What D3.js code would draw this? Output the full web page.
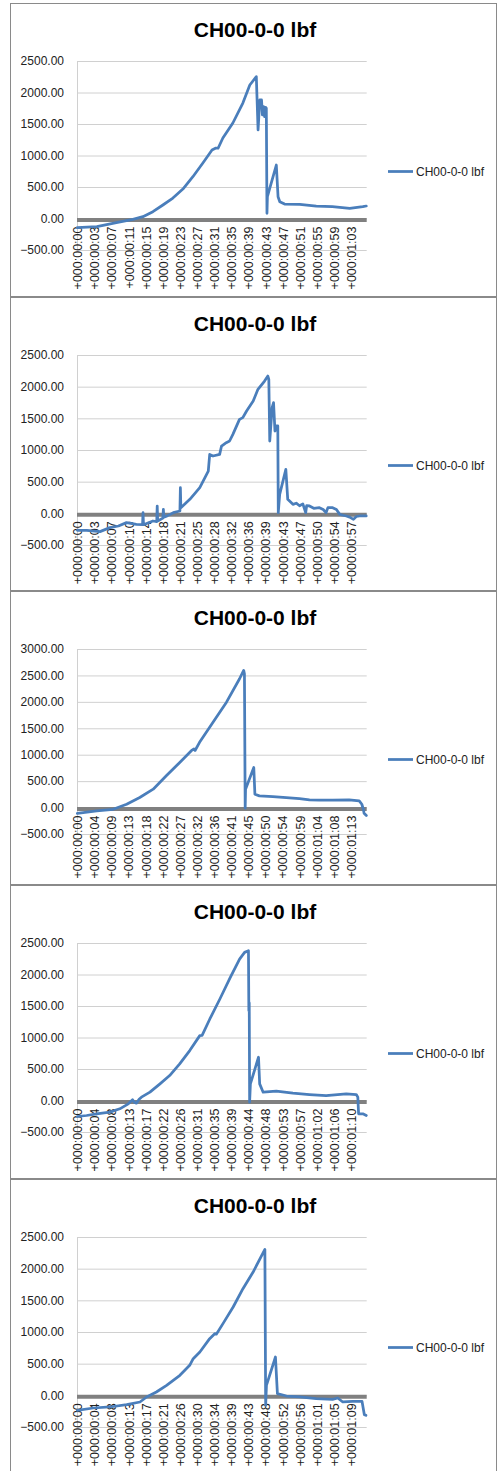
<!DOCTYPE html>
<html><head><meta charset="utf-8">
<script src="https://cdn.jsdelivr.net/npm/d3@7"></script>
<style>body{margin:0;background:#fff} svg{display:block}</style>
</head><body><svg id="c" width="497" height="1471"></svg>
<script>
const seriesName = "CH00-0-0 lbf";

const ticks1 = ["+000:00:00","+000:00:03","+000:00:07","+000:00:11","+000:00:15","+000:00:19","+000:00:23","+000:00:27","+000:00:31","+000:00:35","+000:00:39","+000:00:43","+000:00:47","+000:00:51","+000:00:55","+000:00:59","+000:01:03"];
const ticks2 = ["+000:00:00","+000:00:03","+000:00:07","+000:00:10","+000:00:14","+000:00:18","+000:00:21","+000:00:25","+000:00:28","+000:00:32","+000:00:36","+000:00:39","+000:00:43","+000:00:47","+000:00:50","+000:00:54","+000:00:57"];
const ticks3 = ["+000:00:00","+000:00:04","+000:00:09","+000:00:13","+000:00:18","+000:00:22","+000:00:27","+000:00:32","+000:00:36","+000:00:41","+000:00:45","+000:00:50","+000:00:54","+000:00:59","+000:01:04","+000:01:08","+000:01:13"];
const ticks4 = ["+000:00:00","+000:00:04","+000:00:08","+000:00:13","+000:00:17","+000:00:22","+000:00:26","+000:00:31","+000:00:35","+000:00:39","+000:00:44","+000:00:48","+000:00:53","+000:00:57","+000:01:02","+000:01:06","+000:01:10"];
const ticks5 = ["+000:00:00","+000:00:04","+000:00:08","+000:00:13","+000:00:17","+000:00:21","+000:00:26","+000:00:30","+000:00:34","+000:00:39","+000:00:43","+000:00:48","+000:00:52","+000:00:56","+000:01:01","+000:01:05","+000:01:09"];

// seconds between labelled categories, and total recorded duration (s)
const tickSteps = [3.94, 3.62, 4.575, 4.43, 4.37];
const durations = [66.6, 61.2, 77.4, 74.9, 73.9];
const yMaxes = [2500, 2500, 3000, 2500, 2500];
const yMin = -500;

// [seconds, lbf]
const data1 = [[0,-146],[4.5,-130],[9.0,-67],[12.8,-13],[15.1,29],[17.4,108],[19.7,214],[22.0,325],[24.3,468],[26.6,663],[28.9,880],[31.0,1087],[31.9,1119],[32.4,1115],[33.5,1278],[35.8,1516],[38.1,1833],[39.7,2119],[41.2,2251],[41.6,1405],[42.0,1881],[42.4,1881],[42.6,1643],[42.9,1775],[43.1,1616],[43.35,1765],[43.5,1749],[43.65,83],[43.75,346],[45.8,849],[46.2,346],[46.6,267],[47.7,230],[51.2,225],[55.0,198],[58.7,187],[62.7,162],[65.7,187],[66.5,198]];
const data2 = [[0,-268],[2.0,-268],[4.8,-289],[6.9,-226],[8.7,-200],[10.4,-147],[12.5,-174],[13.8,-180],[13.9,10],[14.0,-180],[16.0,-121],[16.8,-130],[16.9,115],[17.0,-121],[18.1,-75],[18.2,63],[18.3,-60],[19.0,-40],[20.3,10],[21.7,37],[21.8,405],[21.9,89],[23.8,221],[25.9,405],[27.7,668],[28.0,931],[28.7,905],[30.1,931],[30.5,1063],[31.5,1116],[32.2,1142],[32.9,1247],[34.3,1484],[35.0,1511],[35.8,1616],[36.5,1695],[37.2,1774],[38.2,1958],[39.6,2089],[40.3,2168],[40.5,2116],[40.7,1142],[41.2,1668],[41.5,1747],[41.8,1300],[42.1,1379],[42.4,1379],[42.5,10],[42.8,300],[44.1,695],[44.5,221],[45.6,142],[46.3,160],[47.0,120],[47.7,150],[48.3,10],[48.5,120],[49.1,116],[50.0,80],[51.2,89],[52.0,60],[52.6,10],[53.0,90],[54.0,89],[54.8,60],[55.5,-16],[56.2,-30],[56.9,-42],[57.6,-60],[58.4,-95],[59.0,-50],[59.7,-42],[61.1,-42]];
const data3 = [[0,-108],[5.2,-63],[9.6,-32],[13.2,63],[16.7,190],[20.3,348],[23.8,601],[27.4,854],[30.5,1076],[31.2,1108],[31.5,1080],[32.7,1234],[36.3,1614],[39.9,1994],[43.4,2437],[44.5,2595],[44.7,2532],[44.9,-10],[45.0,348],[47.2,759],[47.5,253],[48.7,221],[52.3,209],[55.9,190],[59.4,171],[62.1,146],[64.7,139],[68.3,139],[72.7,146],[75.4,127],[76.1,63],[76.5,-32],[76.7,-108],[77.3,-150]];
const data4 = [[0,-254],[2.4,-238],[5.0,-211],[8.4,-185],[11.0,-132],[13.2,-53],[14.3,11],[14.8,-30],[15.3,-42],[16.0,20],[16.6,53],[18.8,132],[21.4,264],[23.9,396],[26.5,581],[29.1,792],[31.7,1030],[32.3,1035],[34.3,1294],[36.9,1611],[39.6,1955],[42.0,2245],[43.3,2351],[44.3,2377],[44.4,1426],[44.5,1550],[44.6,-26],[44.8,264],[46.9,687],[47.2,264],[48.1,132],[51.5,148],[55.8,116],[60.1,95],[64.4,79],[69.6,106],[72.2,95],[72.6,53],[72.8,-211],[73.9,-211],[74.8,-238]];
const data5 = [[0,-237],[4.1,-200],[8.3,-184],[12.6,-147],[16.0,-105],[17.7,-26],[20.2,53],[22.8,158],[26.2,316],[28.7,474],[29.6,579],[31.3,684],[33.8,895],[35.1,974],[35.5,965],[37.2,1132],[39.8,1395],[42.3,1684],[44.9,1947],[47.9,2305],[48.1,-158],[48.3,158],[50.6,605],[51.1,26],[53.4,-11],[56.8,-26],[61.0,-53],[65.2,-63],[66.5,-42],[67.8,-105],[70.3,-95],[72.7,-95],[73.3,-305],[73.7,-316]];

const tickSets = [ticks1, ticks2, ticks3, ticks4, ticks5];
const dataSets = [data1, data2, data3, data4, data5];

// layout
const frameTops = [3, 297, 591, 885, 1179];
const plotBottoms = [247, 248, 243, 247, 248];
const FONT = "'Liberation Sans', Arial, sans-serif";
const LINE = "#4a7ebb";
const PL = 77, PR = 366.7;

const svg = d3.select("#c");

dataSets.forEach((data, i) => {
  const F = frameTops[i];
  const g = svg.append("g");
  g.append("rect").attr("x", 10.5).attr("y", F + 0.5).attr("width", 486).attr("height", 293)
    .attr("fill", "#fff").attr("stroke", "#8a8a8a").attr("stroke-width", 1);

  const x = d3.scaleLinear().domain([0, durations[i]]).range([PL + 0.3, PR]);
  const y = d3.scaleLinear().domain([yMin, yMaxes[i]]).range([F + plotBottoms[i], F + 58]);

  const ya = g.append("g").attr("transform", `translate(${PL},0)`)
    .call(d3.axisLeft(y).tickValues(d3.range(yMin, yMaxes[i] + 1, 500))
      .tickFormat(d3.format(".2f")).tickSize(-(PR - PL)).tickSizeOuter(0).tickPadding(13));
  ya.attr("font-family", FONT);
  ya.select(".domain").attr("stroke", "#d0d0d0");
  ya.selectAll(".tick line").attr("stroke", "#d0d0d0");
  ya.selectAll(".tick text").attr("font-size", 12).attr("fill", "#222");

  const steps = tickSets[i].map((_, k) => k * tickSteps[i]);
  const xa = g.append("g").attr("transform", `translate(0,${y(0)})`)
    .call(d3.axisBottom(x).tickValues(steps).tickFormat((d, k) => tickSets[i][k]).tickSize(0).tickSizeOuter(0));
  xa.attr("font-family", FONT);
  xa.select(".domain").remove();
  xa.selectAll(".tick text").attr("transform", "rotate(-90)").attr("text-anchor", "end")
    .attr("x", -8).attr("y", 0).attr("dy", "0.35em").attr("font-size", 12.5).attr("fill", "#222");

  g.append("line").attr("x1", PL).attr("x2", PR).attr("y1", y(0) + 1.5).attr("y2", y(0) + 1.5)
    .attr("stroke", "#808080").attr("stroke-width", 4);

  g.append("path").datum(data)
    .attr("d", d3.line().x(d => x(d[0])).y(d => y(d[1])))
    .attr("fill", "none").attr("stroke", LINE).attr("stroke-width", 2.75)
    .attr("stroke-linejoin", "round").attr("stroke-linecap", "round");

  g.append("text").attr("x", 255).attr("y", F + 34).attr("text-anchor", "middle")
    .attr("font-family", FONT).attr("font-weight", "bold").attr("font-size", 21).attr("fill", "#000")
    .text(seriesName);

  g.append("line").attr("x1", 388).attr("x2", 413).attr("y1", F + 168.5).attr("y2", F + 168.5)
    .attr("stroke", LINE).attr("stroke-width", 2.75);
  g.append("text").attr("x", 416).attr("y", F + 168.5).attr("dy", "0.35em")
    .attr("font-family", FONT).attr("font-size", 12).attr("fill", "#222").text(seriesName);
});
</script>
</body></html>
